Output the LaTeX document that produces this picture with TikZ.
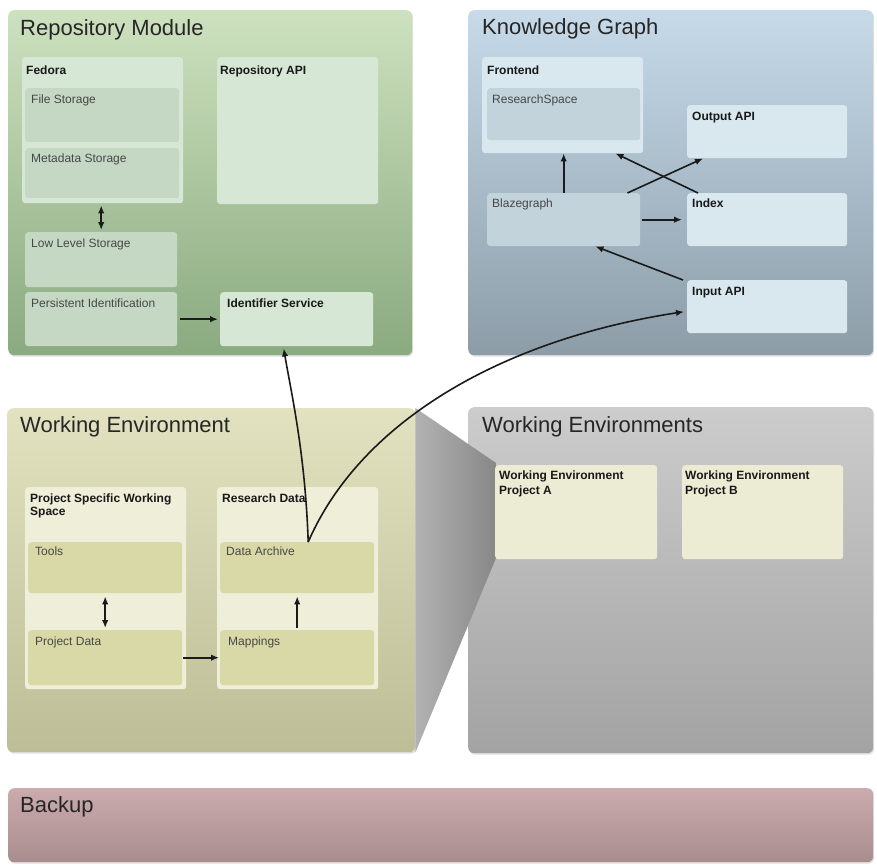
\documentclass[tikz,border=0pt]{standalone}
\usepackage{fontspec}
\setmainfont{Liberation Sans}
\usetikzlibrary{arrows.meta,shadows}
\definecolor{txt}{HTML}{333333}
\definecolor{ink}{HTML}{1A1A1A}
\definecolor{rmtop}{HTML}{CDE1BE}
\definecolor{rmbot}{HTML}{8AAA80}
\definecolor{rmbox}{HTML}{D7E7D5}
\definecolor{rmin}{HTML}{C4D8C4}
\definecolor{kgtop}{HTML}{C6DAEA}
\definecolor{kgbot}{HTML}{8C9DA8}
\definecolor{kgbox}{HTML}{D9E7EF}
\definecolor{kgin}{HTML}{C3D3DB}
\definecolor{wetop}{HTML}{E2E2C0}
\definecolor{webot}{HTML}{BDBD97}
\definecolor{webox}{HTML}{EEEED9}
\definecolor{wein}{HTML}{D9D9A8}
\definecolor{wstop}{HTML}{CCCCCC}
\definecolor{wsbot}{HTML}{A3A3A3}
\definecolor{wsbox}{HTML}{ECEBD4}
\definecolor{butop}{HTML}{CBABAD}
\definecolor{bubot}{HTML}{A88D8F}
\tikzset{
  outer/.style={anchor=north west, inner sep=0pt, rounded corners=6pt,
    drop shadow={opacity=0.25, shadow xshift=1pt, shadow yshift=-1.5pt}},
  boxx/.style={anchor=north west, inner sep=0pt, rounded corners=3pt},
  title/.style={anchor=base west, inner sep=0pt, font=\fontsize{22}{24}\selectfont, text=black!85},
  blbl/.style={anchor=base west, inner sep=0pt, font=\fontsize{12}{14}\selectfont\bfseries, text=black!90},
  rlbl/.style={anchor=base west, inner sep=0pt, font=\fontsize{12}{14}\selectfont, text=black!72},
  arr/.style={draw=ink, line width=1.6pt, -{Latex[length=8pt,width=6.5pt]}},
  darr/.style={draw=ink, line width=1.6pt, {Latex[length=8pt,width=6.5pt]}-{Latex[length=8pt,width=6.5pt]}}
}
\begin{document}
\begin{tikzpicture}[x=1pt,y=-1pt]
\useasboundingbox (0,0) rectangle (877,865);
\fill[white] (0,0) rectangle (877,865);

% ---------- Repository Module ----------
\node[outer, top color=rmtop, bottom color=rmbot, minimum width=404pt, minimum height=345pt] (rm) at (8,10) {};
\node[title] (rmT) at (20,35) {Repository Module};
\node[boxx, fill=rmbox, minimum width=161pt, minimum height=146pt] (fedora) at (22,57) {};
\node[blbl] (fedoraL) at (26,74) {Fedora};
\node[boxx, fill=rmin, minimum width=154pt, minimum height=54pt] (fs) at (25,88) {};
\node[rlbl] (fsL) at (31,103) {File Storage};
\node[boxx, fill=rmin, minimum width=154pt, minimum height=50pt] (ms) at (25,148) {};
\node[rlbl] (msL) at (31,162) {Metadata Storage};
\node[boxx, fill=rmbox, minimum width=161pt, minimum height=147pt] (rapi) at (217,57) {};
\node[blbl] (rapiL) at (220,74) {Repository API};
\node[boxx, fill=rmin, minimum width=152pt, minimum height=55pt] (lls) at (25,232) {};
\node[rlbl] (llsL) at (31,247) {Low Level Storage};
\node[boxx, fill=rmin, minimum width=152pt, minimum height=54pt] (pid) at (25,292) {};
\node[rlbl] (pidL) at (31,307) {Persistent Identification};
\node[boxx, fill=rmbox, minimum width=153pt, minimum height=54pt] (ids) at (220,292) {};
\node[blbl] (idsL) at (227,307) {Identifier Service};

% ---------- Knowledge Graph ----------
\node[outer, top color=kgtop, bottom color=kgbot, minimum width=405pt, minimum height=345pt] (kg) at (468,10) {};
\node[title] (kgT) at (482,34) {Knowledge Graph};
\node[boxx, fill=kgbox, minimum width=161pt, minimum height=96pt] (front) at (482,57) {};
\node[blbl] (frontL) at (487,74) {Frontend};
\node[boxx, fill=kgin, minimum width=153pt, minimum height=52pt] (rs) at (487,88) {};
\node[rlbl] (rsL) at (492,103) {ResearchSpace};
\node[boxx, fill=kgbox, minimum width=160pt, minimum height=53pt] (out) at (687,105) {};
\node[blbl] (outL) at (692,120) {Output API};
\node[boxx, fill=kgin, minimum width=153pt, minimum height=53pt] (blaze) at (487,193) {};
\node[rlbl] (blazeL) at (492,207) {Blazegraph};
\node[boxx, fill=kgbox, minimum width=160pt, minimum height=53pt] (index) at (687,193) {};
\node[blbl] (indexL) at (692,207) {Index};
\node[boxx, fill=kgbox, minimum width=160pt, minimum height=53pt] (input) at (687,280) {};
\node[blbl] (inputL) at (692,295) {Input API};

% ---------- Working Environments ----------
\node[outer, top color=wstop, bottom color=wsbot, minimum width=405pt, minimum height=346pt] (ws) at (468,407) {};
\node[title] (wsT) at (482,432) {Working Environments};

% ---------- Working Environment ----------
\node[outer, top color=wetop, bottom color=webot, minimum width=408pt, minimum height=344pt] (we) at (7,408) {};
\node[title] (weT) at (20,432) {Working Environment};

% funnel
\shade[left color=black!30, right color=black!47] (we.north east) -- (496,463) -- (496,558) -- (we.south east) -- cycle;

\node[boxx, fill=wsbox, minimum width=162pt, minimum height=94pt] (pa) at (495,465) {};
\node[blbl] (paL) at (499,479) {Working Environment};
\node[blbl] (paL2) at (499,494) {Project A};
\node[boxx, fill=wsbox, minimum width=161pt, minimum height=94pt] (pb) at (682,465) {};
\node[blbl] (pbL) at (685,479) {Working Environment};
\node[blbl] (pbL2) at (685,494) {Project B};

\node[boxx, fill=webox, minimum width=161pt, minimum height=202pt] (psws) at (25,487) {};
\node[blbl] (pswsL) at (30,502) {Project Specific Working};
\node[blbl] (pswsL2) at (30,515) {Space};
\node[boxx, fill=wein, minimum width=154pt, minimum height=51pt] (tools) at (28,542) {};
\node[rlbl] (toolsL) at (35,555) {Tools};
\node[boxx, fill=wein, minimum width=154pt, minimum height=55pt] (pdata) at (28,630) {};
\node[rlbl] (pdataL) at (35,645) {Project Data};
\node[boxx, fill=webox, minimum width=161pt, minimum height=202pt] (rd) at (217,487) {};
\node[blbl] (rdL) at (222,502) {Research Data};
\node[boxx, fill=wein, minimum width=154pt, minimum height=51pt] (darch) at (220,542) {};
\node[rlbl] (darchL) at (226,555) {Data Archive};
\node[boxx, fill=wein, minimum width=154pt, minimum height=55pt] (mapp) at (220,630) {};
\node[rlbl] (mappL) at (228,645) {Mappings};

% ---------- Backup ----------
\node[outer, top color=butop, bottom color=bubot, minimum width=865pt, minimum height=74pt] (bu) at (8,788) {};
\node[title] (buT) at (20,812) {Backup};

% ---------- connectors ----------
\draw[darr] ([yshift=-2pt]fedora.south -| lls.north) -- ([yshift=2pt]lls.north);
\draw[arr] ([xshift=3pt]pid.east) -- ([xshift=-2pt]ids.west);
\draw[arr] (blaze.north) -- (front.south -| blaze.north);
\draw[arr] ([xshift=-13pt]blaze.north east) -- ([xshift=16pt]out.south west);
\draw[arr] ([xshift=11pt]index.north west) -- ([xshift=-28pt]front.south east);
\draw[arr] ([xshift=2pt]blaze.east) -- ([xshift=-5pt]index.west);
\draw[arr] ([xshift=-4pt]input.north west) -- ([xshift=-45pt]blaze.south east);
\draw[darr] ([yshift=-3pt]tools.south) -- ([yshift=2pt]pdata.north);
\draw[arr] ([yshift=2pt]mapp.north) -- ([yshift=-3pt]darch.north |- darch.south);
\draw[arr] ([xshift=1pt]pdata.east) -- ([xshift=-1pt]mapp.west);
\draw[arr] ([xshift=11pt]darch.north) .. controls +(-3,-90) and +(7,42) .. ([xshift=-13pt,yshift=-2pt]ids.south);
\draw[arr] ([xshift=11pt]darch.north) .. controls +(52,-120) and +(-183,28) .. ([xshift=-3pt,yshift=-5pt]input.west);
\end{tikzpicture}
\end{document}
